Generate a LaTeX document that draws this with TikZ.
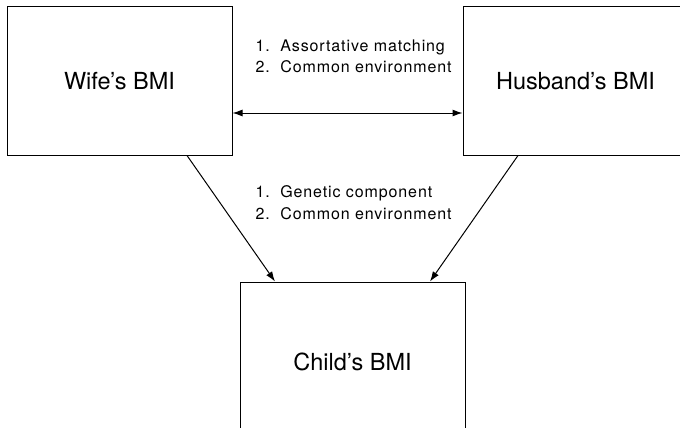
\documentclass[tikz,border=0pt]{standalone}
\usepackage{fontspec}
\setmainfont{TeX Gyre Heros}
\usetikzlibrary{arrows.meta}

\begin{document}
\begin{tikzpicture}[x=1pt, y=-1pt, line width=1pt,
		>={Latex[length=10pt,width=7pt]},
		box/.style = {draw, rectangle, minimum width=225pt, inner sep=0pt, font=\fontsize{23.5}{28}\selectfont},
		note/.style = {anchor=base west, align=left, inner sep=0pt, font=\fontsize{16}{21.5}\selectfont\addfontfeature{LetterSpace=5.5}}]
		\clip (0,0) rectangle (680,428);
		\node[box, minimum height=148pt] (wife) at (119.5,81) {Wife’s BMI};
		\node[box, minimum height=148pt] (husband) at (575.5,81) {Husband’s BMI};
		\node[box, minimum height=160pt] (child) at (352.5,362) {Child’s BMI};
		
		\node[note] (mate) at (255,73) {1.\ \ Assortative matching\\2.\ \ Common environment};
		\node[note] (gene) at (255,219) {1.\ \ Genetic component\\2.\ \ Common environment};
		
		\draw[<->] ([yshift=-32pt]wife.east) -- ([yshift=-32pt]husband.west);
		\draw[->] ([xshift=67.5pt]wife.south) -- ([xshift=-77.5pt]child.north);
		\draw[->] ([xshift=-57.5pt]husband.south) -- ([xshift=77.5pt]child.north);
	\end{tikzpicture}
\end{document}
